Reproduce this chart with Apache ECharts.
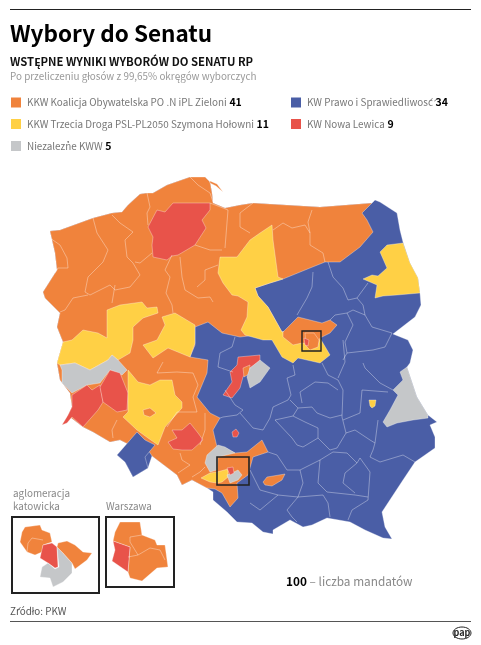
<!DOCTYPE html>
<html>
<head>
<meta charset="utf-8">
<style>html,body{margin:0;padding:0;background:#fff}#chart{width:481px;height:645px}</style>
<script src="https://cdn.jsdelivr.net/npm/echarts@6/dist/echarts.min.js"></script>
</head>
<body>
<div id="chart"></div>
<script>
// komitety i mandaty
const parties = ['KKW Koalicja Obywatelska PO .N iPL Zieloni', 'KW Prawo i Sprawiedliwość', 'KKW Trzecia Droga PSL-PL2050 Szymona Hołowni', 'KW Nowa Lewica', 'Niezależne KWW'];
const seats = [41, 34, 11, 9, 5];
const partyColors = ['#F0833C', '#4A5EA6', '#FFD045', '#E8534A', '#C5C7C9'];
const ORANGE = 0, BLUE = 1, YELLOW = 2, RED = 3, GREY = 4;

// obszary na mapie (kolejnosc = kolejnosc rysowania) i zwyciezcy
const regionNames = ['Polska', 'Zachod i polnoc', 'Hel', 'Srodkowa polnoc', 'Podlasie', 'Wielkopolska zachod', 'Wielkopolska wschod',
  'Lubuskie poludnie', 'Legnica', 'Jelenia Gora', 'Dolny Slask', 'Wroclaw', 'Klodzko', 'Opole', 'Pila', 'Lodz', 'Lodz centrum', 'Lodz wschod',
  'Czestochowa', 'Zamosc', 'Lublin', 'Rybnik', 'Krakow', 'Mazowsze', 'Warszawa mapa', 'Warszawa lewica', 'Slask zolty', 'Slask szary', 'Slask czerwony',
  'Katowice A', 'Katowice lewica', 'Katowice KWW', 'Katowice B', 'Warszawa A', 'Warszawa B'];
const regionParty = [BLUE, ORANGE, ORANGE, YELLOW, YELLOW, YELLOW, YELLOW,
  GREY, RED, RED, YELLOW, ORANGE, BLUE, RED, RED, RED, ORANGE, GREY,
  RED, GREY, YELLOW, GREY, ORANGE, ORANGE, ORANGE, RED, YELLOW, GREY, RED,
  ORANGE, RED, GREY, ORANGE, ORANGE, RED];

// obrysy odrysowane z mapy
const regionShapes = [
  [[50,231],[60,230],[93,218],[112,213],[122,212],[128,205],[140,194],[147,193],[153,193],[167,185],[190,177],[205,177],[210,182],[212,193],[213,203],[225,208],[240,205],[253,203],[320,207],[372,203],[375,200],[380,202],[397,213],[400,230],[403,242],[410,263],[418,278],[420,293],[421,305],[415,317],[393,334],[408,340],[413,350],[410,363],[407,367],[417,397],[428,415],[437,422],[430,425],[435,437],[435,448],[415,462],[403,480],[382,512],[385,527],[392,539],[383,538],[365,530],[350,522],[327,518],[312,525],[303,527],[290,520],[273,530],[273,534],[263,532],[252,523],[237,522],[227,512],[213,500],[213,492],[207,488],[192,480],[182,485],[177,475],[152,456],[148,468],[133,477],[125,462],[117,455],[130,445],[120,440],[110,442],[93,432],[83,427],[70,417],[62,425],[67,418],[72,407],[70,393],[60,380],[57,363],[63,342],[57,327],[60,313],[45,298],[43,292],[57,270],[55,253]],
  [[50,231],[60,230],[93,218],[112,213],[122,212],[128,205],[140,194],[147,193],[153,193],[167,185],[190,177],[205,177],[210,182],[212,193],[213,203],[225,208],[240,205],[253,203],[320,207],[372,203],[362,213],[367,220],[373,232],[360,247],[340,262],[325,262],[310,268],[283,279],[270,283],[255,288],[258,296],[268,307],[282,332],[298,330],[240,337],[222,333],[208,322],[195,327],[195,345],[190,357],[208,360],[207,373],[197,397],[210,413],[220,418],[213,430],[217,447],[225,448],[235,453],[247,452],[262,440],[268,452],[253,457],[248,475],[237,483],[238,498],[230,507],[222,493],[215,489],[207,488],[192,480],[182,485],[177,475],[152,456],[145,445],[130,445],[120,440],[110,442],[93,432],[83,427],[70,417],[62,425],[67,418],[72,407],[70,393],[60,380],[57,363],[63,342],[57,327],[60,313],[45,298],[43,292],[57,270],[55,253]],
  [[210,181],[217,184],[223,192],[222,193],[216,186],[210,183]],
  [[272,225],[273,240],[278,277],[283,279],[270,283],[255,288],[258,296],[268,307],[282,332],[298,330],[320,338],[330,355],[320,363],[298,358],[293,363],[282,357],[272,340],[263,340],[245,335],[241,330],[247,317],[248,302],[238,296],[232,295],[223,283],[218,273],[220,257],[237,257],[250,240],[260,233]],
  [[380,252],[387,245],[403,243],[410,263],[418,278],[420,293],[397,295],[383,296],[375,298],[377,285],[370,282],[363,279],[372,275],[378,276],[387,268]],
  [[57,363],[63,342],[72,340],[83,330],[98,333],[107,338],[107,310],[120,305],[142,302],[147,308],[157,307],[158,313],[143,318],[133,327],[133,340],[130,353],[118,360],[112,355],[108,360],[90,370],[75,363],[60,365]],
  [[162,317],[175,313],[195,325],[195,343],[190,357],[168,348],[153,358],[143,345],[157,340],[165,325]],
  [[60,365],[75,363],[90,370],[108,360],[112,355],[118,360],[127,370],[122,375],[110,370],[100,383],[87,385],[72,393],[62,383],[62,370]],
  [[72,395],[87,385],[92,390],[100,385],[103,402],[98,410],[83,427],[72,417],[67,423],[62,425],[68,415],[72,407]],
  [[110,370],[120,373],[128,393],[127,410],[117,412],[103,402],[100,387]],
  [[128,370],[138,382],[150,385],[160,380],[172,380],[175,395],[182,402],[182,408],[165,427],[158,445],[148,438],[137,430],[123,417],[128,412],[128,387]],
  [[143,410],[150,408],[156,413],[150,417],[144,415]],
  [[137,432],[117,455],[125,462],[133,477],[148,468],[145,457],[155,445],[145,440]],
  [[168,442],[177,438],[172,430],[182,430],[190,423],[198,433],[203,440],[192,450],[182,450],[173,449]],
  [[157,210],[165,212],[173,203],[210,203],[210,210],[202,220],[206,228],[195,245],[178,255],[172,256],[167,260],[153,257],[152,245],[153,237],[148,227]],
  [[238,357],[260,355],[260,361],[250,368],[243,377],[240,388],[232,398],[223,395],[232,382],[230,372],[237,365]],
  [[243,368],[250,365],[249,374],[244,377]],
  [[260,360],[270,368],[260,382],[250,388],[247,377],[250,368]],
  [[232,432],[236,429],[239,433],[237,437],[233,437]],
  [[407,367],[417,397],[428,415],[428,418],[413,420],[397,423],[387,427],[383,422],[390,410],[398,395],[393,390],[403,380],[400,372]],
  [[369,400],[376,400],[375,406],[372,408],[370,406]],
  [[207,455],[218,445],[225,447],[235,453],[218,457],[217,470],[210,472],[205,463]],
  [[263,482],[267,477],[285,474],[282,480],[272,486],[265,485]],
  [[283,332],[298,317],[310,320],[322,323],[330,320],[337,325],[330,333],[320,338],[318,345],[302,343],[293,345],[283,337]],
  [[305,333],[314,333],[319,340],[318,347],[310,350],[306,346]],
  [[304,338],[309,340],[308,346],[305,345]],
  [[201,478],[210,473],[217,472],[228,469],[228,477],[222,482],[217,483],[210,482]],
  [[227,475],[234,472],[238,470],[242,475],[238,480],[230,483]],
  [[227,468],[233,467],[234,473],[230,475]],
  // wstawka: aglomeracja katowicka
  [[25,527],[40,525],[42,530],[50,533],[52,542],[43,545],[42,552],[35,555],[27,552],[20,542],[22,532]],
  [[43,545],[52,543],[57,547],[58,567],[55,568],[48,563],[40,558]],
  [[57,547],[63,553],[72,563],[72,573],[63,582],[53,587],[50,578],[40,577],[42,567],[48,563],[55,569],[59,567]],
  [[58,543],[67,541],[75,545],[83,552],[92,553],[87,560],[75,569],[72,563],[63,553],[57,547]],
  // wstawka: Warszawa
  [[115,532],[120,522],[140,522],[142,535],[155,540],[157,545],[165,545],[168,567],[157,568],[142,581],[130,578],[128,572],[130,547],[113,541]],
  [[113,541],[130,547],[128,572],[112,561],[115,550]]
];

// granice okregow wewnatrz jednego koloru
const borderLines = [
  [[50,238],[60,245],[67,258],[68,268],[58,268],[55,273]],
  [[93,218],[97,233],[108,250],[103,262],[88,277],[85,292],[90,295],[110,285],[115,290],[130,287],[140,275],[133,263],[127,257],[125,240],[133,232],[120,223],[112,215]],
  [[147,193],[150,207],[147,213],[148,225]],
  [[152,253],[140,263],[135,262]],
  [[88,295],[73,298],[65,310],[60,312]],
  [[115,285],[112,303]],
  [[172,255],[165,270],[170,277],[166,293],[172,305],[173,313]],
  [[180,257],[182,277],[185,290],[198,298],[210,297],[213,302]],
  [[197,287],[205,280],[205,270],[218,265]],
  [[195,245],[210,250],[222,250]],
  [[210,203],[223,208],[228,210],[225,248]],
  [[190,177],[198,185],[210,193],[213,202]],
  [[253,203],[240,213],[240,227],[250,233]],
  [[273,230],[283,223],[292,228],[305,225],[310,233],[310,245],[323,253],[325,262]],
  [[312,210],[308,222],[310,233]],
  [[328,262],[333,277],[343,288],[348,300],[357,298],[368,283]],
  [[313,272],[312,287],[307,298],[297,315]],
  [[357,298],[363,305],[365,315],[353,310],[347,313],[335,315],[330,320]],
  [[365,315],[372,327],[392,333],[385,347],[373,350],[347,353],[343,360]],
  [[347,313],[353,325],[345,342],[347,353]],
  [[343,340],[345,362],[338,378]],
  [[363,363],[365,368],[380,383],[393,390]],
  [[322,363],[328,375],[338,380],[343,390],[342,417],[346,433],[337,448],[330,450],[318,438]],
  [[293,365],[295,375],[287,378],[291,395],[288,400],[273,407],[270,418],[263,430]],
  [[290,400],[298,408],[312,407],[317,413],[330,418],[342,415]],
  [[302,403],[300,392],[315,382],[328,383],[338,390]],
  [[275,420],[293,416],[298,408]],
  [[293,416],[305,422],[318,428],[318,438],[303,447],[297,445],[292,438],[275,420]],
  [[343,420],[360,413],[362,390],[388,392]],
  [[346,433],[355,430],[370,440],[375,443],[378,420]],
  [[375,443],[373,450],[370,457],[380,462],[403,455],[415,462]],
  [[333,452],[320,460],[300,470],[287,470],[277,455],[268,452]],
  [[333,452],[347,453],[357,463],[360,458],[370,472],[368,500],[352,510],[348,520]],
  [[320,460],[318,483],[327,492],[355,495],[368,497]],
  [[357,463],[345,473],[343,483],[355,493]],
  [[300,470],[303,483],[298,497],[323,495],[328,503],[330,517]],
  [[298,497],[287,510],[292,517],[297,522]],
  [[298,497],[278,495],[260,510],[250,503]],
  [[250,470],[260,490],[278,495]],
  [[240,413],[253,428],[263,430]],
  [[235,337],[232,347],[220,353],[218,367],[233,372]],
  [[225,390],[235,405],[243,410],[237,415],[223,417],[220,418]],
  [[205,413],[205,430],[200,445]],
  [[163,362],[157,373],[177,372],[193,373],[198,385],[193,397],[197,412],[177,412],[167,427]],
  [[117,420],[112,430],[113,438]],
  [[180,453],[182,460],[190,465],[178,473]],
  [[192,477],[200,472],[205,467]],
  [[28,543],[32,538],[43,540]],
  [[28,543],[27,552]],
  [[130,537],[142,535]],
  [[130,537],[130,542],[138,555],[128,557]],
  [[138,555],[150,548],[160,550],[165,560]]
];

// ramki: x, y, szerokosc, wysokosc, grubosc
const frameBoxes = [[12, 517, 87, 76, 2], [106, 517, 68, 70, 2], [217, 457, 32, 28, 1.6], [302, 331, 19, 20, 1.4]];
const insetLabels = [['aglomeracja', 13, 493], ['katowicka', 13, 506], ['Warszawa', 106, 506]];
const font = '"Noto Sans CJK SC", "Noto Sans", sans-serif';
const legendX = [11, 11, 11, 291, 291];
const legendY = [102.5, 124, 146, 102.5, 124];
const legendOrder = [0, 2, 4, 1, 3];

echarts.registerMap('senat', {
  type: 'FeatureCollection',
  features: regionNames.map((name, i) => ({
    type: 'Feature',
    properties: { name },
    geometry: { type: 'Polygon', coordinates: [regionShapes[i]] }
  }))
});

const chart = echarts.init(document.getElementById('chart'));
const graphics = [];

function addText(text, x, y, size, color, weight) {
  graphics.push({ type: 'text', x, y, z: 20, style: { text, fontFamily: font, fontSize: size, fill: color, fontWeight: weight || 'normal', textVerticalAlign: 'middle' } });
}
function addLine(y, color, width) {
  graphics.push({ type: 'line', z: 20, shape: { x1: 10, y1: y, x2: 471, y2: y }, style: { stroke: color, lineWidth: width } });
}

addLine(9.5, '#222', 1);
addLine(621.5, '#555', 1);
addText('Wybory do Senatu', 10, 33, 22.5, '#000', 'bold');
addText('WSTĘPNE WYNIKI WYBORÓW DO SENATU RP', 10, 62, 11.3, '#111', 'bold');
addText('Po przeliczeniu głosów z 99,65% okręgów wyborczych', 10, 76, 9.9, '#999');
addText('Źródło: PKW', 10, 611, 9.9, '#555');

legendOrder.forEach((p, i) => {
  graphics.push({ type: 'rect', z: 20, shape: { x: legendX[i], y: legendY[i] - 5, width: 10, height: 10 }, style: { fill: partyColors[p] } });
  graphics.push({
    type: 'text', x: legendX[i] + 16, y: legendY[i], z: 20,
    style: {
      text: '{n|' + parties[p] + '} {v|' + seats[p] + '}',
      fontFamily: font, textVerticalAlign: 'middle',
      rich: {
        n: { fontFamily: font, fontSize: 9.9, fill: '#777' },
        v: { fontFamily: font, fontSize: 10.5, fontWeight: 'bold', fill: '#000' }
      }
    }
  });
});

graphics.push({
  type: 'text', x: 286, y: 582, z: 20,
  style: {
    text: '{v|100} {n|– liczba mandatów}', fontFamily: font, textVerticalAlign: 'middle',
    rich: {
      v: { fontFamily: font, fontSize: 11.8, fontWeight: 'bold', fill: '#000' },
      n: { fontFamily: font, fontSize: 11.8, fill: '#888' }
    }
  }
});

insetLabels.forEach(l => addText(l[0], l[1], l[2], 9.9, '#888'));

frameBoxes.forEach(b => {
  graphics.push({ type: 'rect', z: 20, shape: { x: b[0], y: b[1], width: b[2], height: b[3] }, style: { fill: null, stroke: '#222', lineWidth: b[4] } });
});

// logo pap
graphics.push({ type: 'ellipse', z: 20, shape: { cx: 462, cy: 633, rx: 9, ry: 6 }, style: { fill: '#fff', stroke: '#222', lineWidth: 1 } });
graphics.push({ type: 'text', x: 462, y: 632.5, z: 21, style: { text: 'pap', fontFamily: font, fontSize: 9, fontWeight: 'bold', fill: '#222', textAlign: 'center', textVerticalAlign: 'middle' } });

chart.setOption({
  animation: false,
  geo: {
    map: 'senat',
    silent: true,
    roam: false,
    aspectScale: 1,
    projection: { project: p => p, unproject: p => p },
    boundingCoords: [[0, 0], [481, 645]],
    left: 0, top: 0, width: 481, height: 645,
    label: { show: false },
    itemStyle: { borderColor: 'rgba(255,255,255,0.55)', borderWidth: 0.6 },
    regions: regionNames.map((name, i) => ({ name, itemStyle: { areaColor: partyColors[regionParty[i]] } }))
  },
  graphic: graphics,
  series: [{
    type: 'lines',
    coordinateSystem: 'geo',
    polyline: true,
    silent: true,
    lineStyle: { color: '#fff', width: 0.7, opacity: 0.5 },
    data: borderLines.map(coords => ({ coords }))
  }]
});
</script>
</body>
</html>
